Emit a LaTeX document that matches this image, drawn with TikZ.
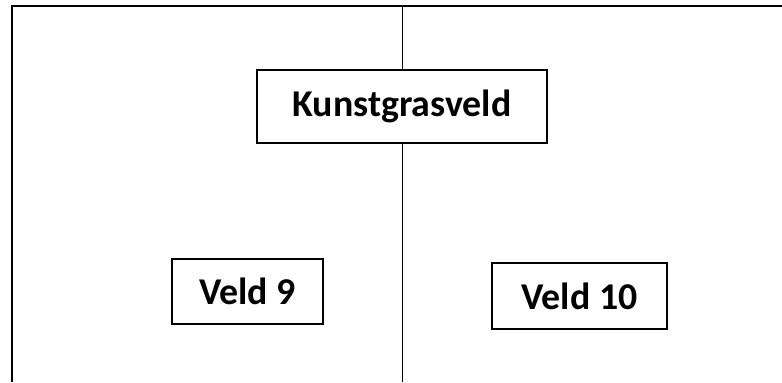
\documentclass[tikz,border=0pt]{standalone}
\usepackage{fontspec}
\setmainfont{Carlito}
\usetikzlibrary{positioning}

\tikzset{
  veldbox/.style={draw, line width=1.4bp, inner sep=0pt, font=\fontsize{38}{44}\selectfont\bfseries},
}

\begin{document}
\begin{tikzpicture}[x=1bp, y=-1bp]
\useasboundingbox (0,0) rectangle (782,382);

\draw [line width=2bp] (782, 6) -- (12, 6) -- (12, 382);

\node [veldbox, minimum width=290bp, minimum height=73bp] (kunstgras) at (402, 106.5) {Kunstgrasveld};
\node [veldbox, minimum width=151bp, minimum height=65bp] (veld9) at (247.5, 291.5) {Veld 9};
\node [veldbox, minimum width=175bp, minimum height=66bp] (veld10) at (579.5, 296) {Veld 10};

\coordinate (top) at (402, 6);
\coordinate (bottom) at (402, 382);

\draw [line width=1bp] (top) -- (kunstgras.north);
\draw [line width=1bp] (kunstgras.south) -- (bottom);

\end{tikzpicture}
\end{document}
